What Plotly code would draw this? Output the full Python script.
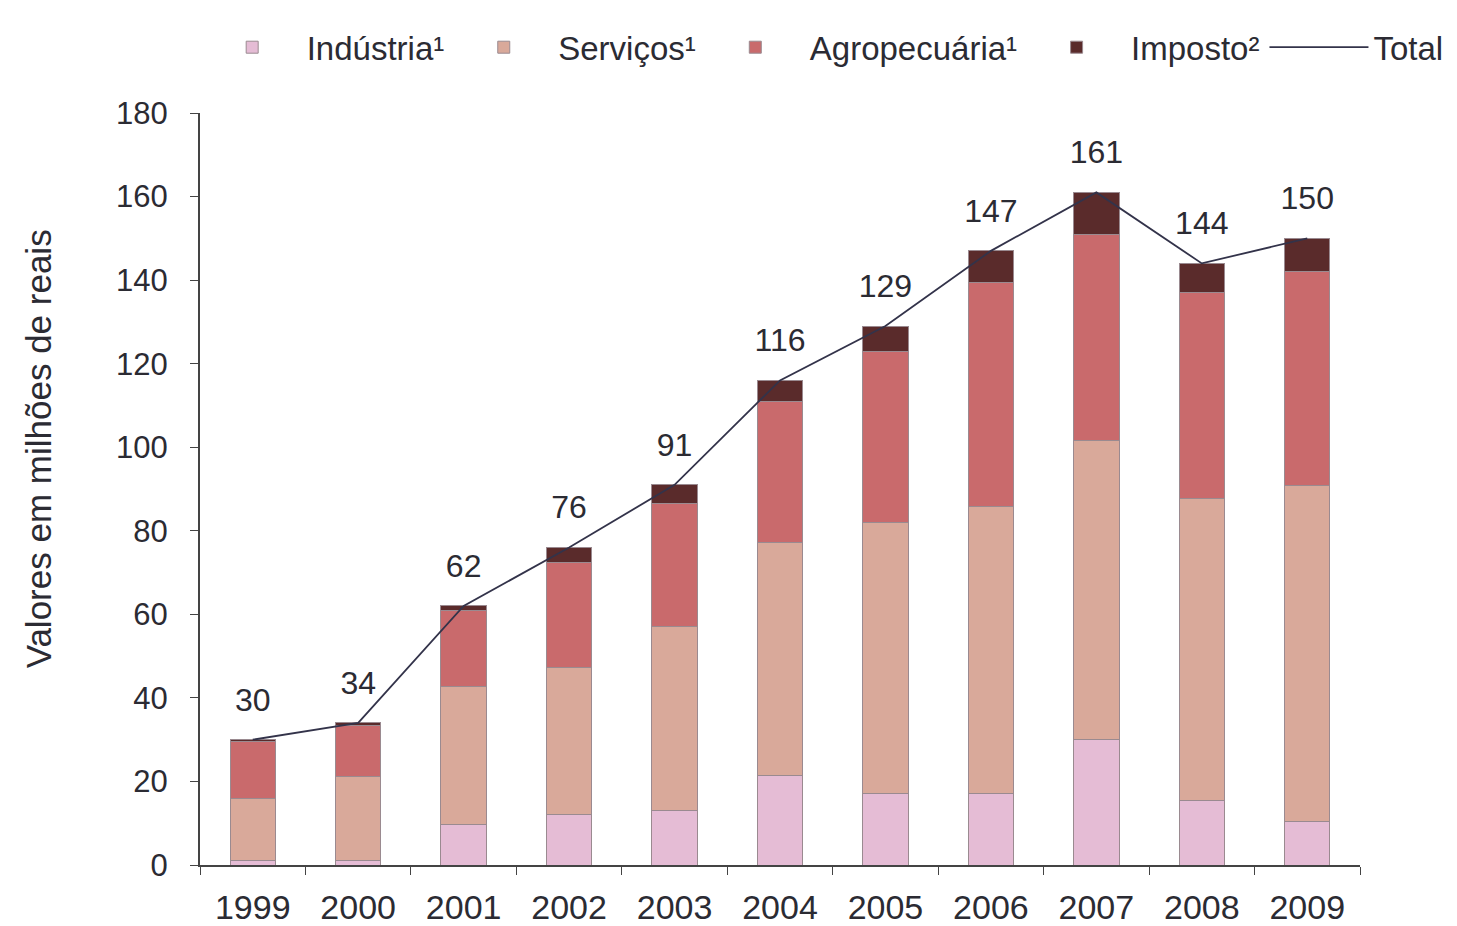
import plotly.graph_objects as go

anos = ['1999', '2000', '2001', '2002', '2003', '2004', '2005', '2006', '2007', '2008', '2009']
industria = [1, 1, 9.6, 12, 13, 21.5, 17.2, 17.2, 30, 15.5, 10.3]
servicos = [15, 20.3, 33.2, 35.3, 44, 55.7, 64.8, 68.6, 71.6, 72.2, 80.5]
agropecuaria = [13.5, 12.2, 18, 25, 29.5, 33.8, 41, 53.6, 49.4, 49.3, 51.2]
imposto = [0.5, 0.5, 1.2, 3.7, 4.5, 5, 6, 7.6, 10, 7, 8]
total = [30, 34, 62, 76, 91, 116, 129, 147, 161, 144, 150]

FONT = 'Liberation Sans, Arial, sans-serif'
TXT = '#2b2b33'

series = [
    ('Indústria¹', industria, '#e5bcd5'),
    ('Serviços¹', servicos, '#d9a99a'),
    ('Agropecuária¹', agropecuaria, '#c96a6c'),
    ('Imposto²', imposto, '#5a2b2b'),
]

fig = go.Figure()
for name, vals, color in series:
    fig.add_trace(go.Bar(
        x=anos, y=vals, name=name,
        marker=dict(color=color, line=dict(color='#9a8a90', width=1)),
    ))

fig.add_trace(go.Scatter(
    x=anos, y=total, name='Total', mode='lines',
    line=dict(color='#33334a', width=1.8),
))
# transparent markers push the labels up above the bar tops
fig.add_trace(go.Scatter(
    x=anos, y=total, mode='markers+text', showlegend=False,
    marker=dict(size=32, color='rgba(0,0,0,0)'),
    text=[str(v) for v in total],
    textposition='top center',
    textfont=dict(family=FONT, size=32, color=TXT),
    cliponaxis=False, hoverinfo='skip',
))

# page has an 8px body offset, margins compensate for it
fig.update_layout(
    width=1457, height=926,
    barmode='stack', bargap=0.57,
    paper_bgcolor='white', plot_bgcolor='white',
    margin=dict(l=192, r=105, t=104, b=69),
    font=dict(family=FONT, size=32, color=TXT),
    legend=dict(
        orientation='h', x=-0.002, xanchor='left', y=1.086, yanchor='middle',
        traceorder='normal', font=dict(size=33, color=TXT),
        itemwidth=99, tracegroupgap=0,
    ),
    annotations=[dict(
        text='Valores em milhões de reais', textangle=-90,
        xref='paper', yref='paper', x=-0.1397, y=0.554,
        xanchor='center', yanchor='middle', showarrow=False,
        font=dict(size=35, color=TXT),
    )],
)
fig.update_xaxes(
    type='category', range=[-0.5, len(anos) - 0.5],
    showline=True, linecolor='#444', linewidth=2,
    ticks='outside', tickson='boundaries', ticklen=8, tickcolor='#444',
    tickfont=dict(size=34, color=TXT), showgrid=False, automargin=False,
    ticklabelstandoff=11,
)
fig.update_yaxes(
    range=[0, 180], dtick=20, showline=True, linecolor='#444', linewidth=2,
    ticks='outside', ticklen=8, tickcolor='#444', showgrid=False, zeroline=False,
    tickfont=dict(size=31, color=TXT), automargin=False, ticklabelstandoff=16,
)

fig.write_html('out.html')
